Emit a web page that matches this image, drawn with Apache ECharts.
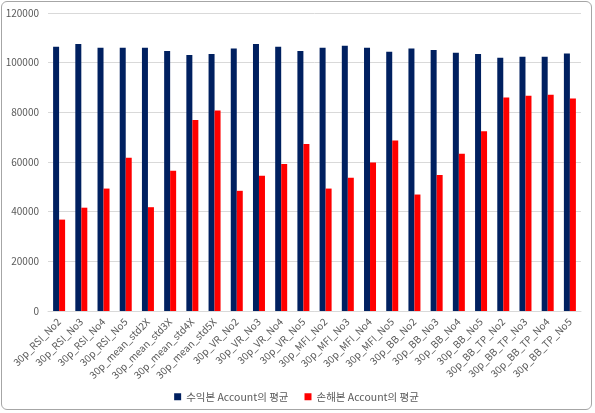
<!DOCTYPE html>
<html>
<head>
<meta charset="utf-8">
<script src="https://cdn.jsdelivr.net/npm/echarts@6/dist/echarts.min.js"></script>
<style>
  html, body { margin: 0; padding: 0; background: #fff; }
  #chart { position: absolute; left: 1px; top: 1px; width: 591px; height: 409px;
           border: 1px solid #a6a6a6; border-radius: 6px; box-sizing: border-box; }
</style>
</head>
<body>
<div id="chart"></div>
<script>
const categories = [
    '30p_RSI_No2', '30p_RSI_No3', '30p_RSI_No4', '30p_RSI_No5',
    '30p_mean_std2X', '30p_mean_std3X', '30p_mean_std4X', '30p_mean_std5X',
    '30p_VR_No2', '30p_VR_No3', '30p_VR_No4', '30p_VR_No5',
    '30p_MFI_No2', '30p_MFI_No3', '30p_MFI_No4', '30p_MFI_No5',
    '30p_BB_No2', '30p_BB_No3', '30p_BB_No4', '30p_BB_No5',
    '30p_BB_TP_No2', '30p_BB_TP_No3', '30p_BB_TP_No4', '30p_BB_TP_No5'
];
const profitAvg = [
    106400, 107500, 106000, 106000, 106000, 104700, 103100, 103500,
    105700, 107500, 106400, 104700, 106000, 106800, 106000, 104400,
    105700, 105100, 104000, 103500, 102000, 102400, 102400, 103700
];
const lossAvg = [
    36800, 41600, 49300, 61700, 41800, 56500, 76900, 80700,
    48400, 54500, 59200, 67200, 49300, 53700, 59800, 68700,
    46900, 54800, 63300, 72400, 86000, 86700, 87100, 85600
];
const yTicks = { min: 0, max: 120000, interval: 20000 };

const labelColor = '#595959';
const font = '"Noto Sans CJK KR", "Noto Sans", sans-serif';

echarts.init(document.querySelector('#chart')).setOption({
    animation: false,
    textStyle: { fontFamily: font },
    grid: { left: 46, right: 10, top: 11, bottom: 98 },
    legend: {
        bottom: 2,
        left: 'center',
        itemWidth: 7,
        itemHeight: 7,
        itemGap: 16,
        icon: 'rect',
        textStyle: { color: labelColor, fontSize: 10.5, fontFamily: font }
    },
    xAxis: {
        type: 'category',
        data: categories,
        axisLine: { lineStyle: { color: '#d9d9d9' } },
        axisTick: { show: false },
        axisLabel: {
            interval: 0,
            rotate: 45,
            color: labelColor,
            fontSize: 10,
            margin: 9
        }
    },
    yAxis: {
        type: 'value',
        min: yTicks.min,
        max: yTicks.max,
        interval: yTicks.interval,
        axisLine: { show: false },
        axisTick: { show: false },
        splitLine: { lineStyle: { color: '#d9d9d9' } },
        axisLabel: {
            color: labelColor,
            fontSize: 10,
            margin: 9,
            formatter: v => String(v)
        }
    },
    series: [
        {
            name: '수익본 Account의 평균',
            type: 'bar',
            data: profitAvg,
            barWidth: 6,
            barGap: '0%',
            itemStyle: { color: '#002060' }
        },
        {
            name: '손해본 Account의 평균',
            type: 'bar',
            data: lossAvg,
            barWidth: 6,
            itemStyle: { color: '#ff0000' }
        }
    ]
});
</script>
</body>
</html>
